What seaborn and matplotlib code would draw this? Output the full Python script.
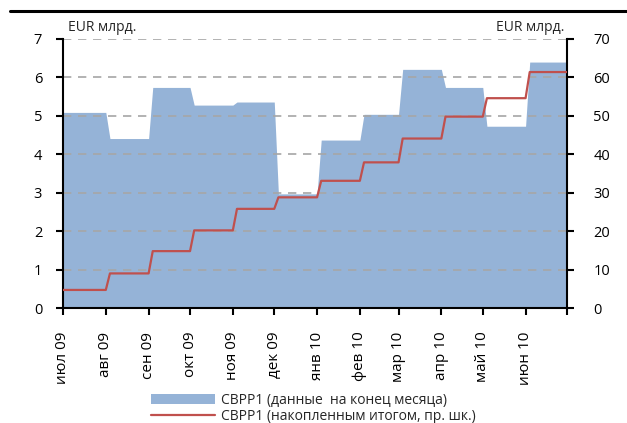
import datetime as dt
import matplotlib as mpl
import matplotlib.pyplot as plt
import matplotlib.dates as mdates
from matplotlib.lines import Line2D
from matplotlib.patches import Patch
import seaborn as sns
import pandas as pd

# данные
months = ['июл 09', 'авг 09', 'сен 09', 'окт 09', 'ноя 09', 'дек 09',
          'янв 10', 'фев 10', 'мар 10', 'апр 10', 'май 10', 'июн 10']
month_starts = pd.date_range('2009-07-01', '2010-07-01', freq='MS')
monthly = [5.09, 4.41, 5.74, 5.28, 5.36, 2.97, 4.37, 5.04, 6.21, 5.74, 4.73, 6.40]
cumulative = [4.7, 9.0, 14.8, 20.2, 25.8, 28.8, 33.1, 37.9, 44.1, 49.8, 54.6, 61.4]

blue = '#95b3d7'
red = '#c0504d'

sns.set_style('white')
mpl.rcParams['font.family'] = ['Open Sans', 'DejaVu Sans']
mpl.rcParams['font.size'] = 10

# ступенчатые ряды: значение держится весь месяц, переход занимает пару дней
xs, ys_m, ys_c = [], [], []
for i in range(len(months)):
    start = month_starts[i] if i == 0 else month_starts[i] + pd.Timedelta(days=3)
    end = month_starts[i + 1]
    xs += [start, end]
    ys_m += [monthly[i], monthly[i]]
    ys_c += [cumulative[i], cumulative[i]]
df = pd.DataFrame({'date': xs, 'monthly': ys_m, 'cum': ys_c})

fig = plt.figure(figsize=(6.27, 4.23), dpi=100)
ax = fig.add_axes([63 / 627, (423 - 308) / 423, (567 - 63) / 627, (308 - 39) / 423])
ax2 = ax.twinx()

ax.fill_between(df['date'], 0, df['monthly'], color=blue, lw=0, zorder=1)
ax.set_ylim(0, 7)
ax.set_yticks(range(0, 8))
for v in range(1, 8):
    ax.axhline(v, color='#a6a6a6', lw=1.2, ls=(0, (5, 4)), zorder=2)

sns.lineplot(data=df, x='date', y='cum', ax=ax2, color=red, lw=1.6, sort=False,
             estimator=None, zorder=3)
ax2.set_ylim(0, 70)
ax2.set_yticks(range(0, 80, 10))
ax2.set_ylabel('')
ax2.set_xlabel('')

ax.set_xlim(month_starts[0], month_starts[-1])
ax.set_xticks(month_starts)
ax.set_xticklabels(months + [''], rotation=90, va='top', ha='center')
ax.set_xlabel('')

for a in (ax, ax2):
    a.grid(False)
    for s in a.spines.values():
        s.set_visible(False)
ax.spines['left'].set_visible(True)
ax.spines['bottom'].set_visible(True)
ax2.spines['right'].set_visible(True)
for s in (ax.spines['left'], ax.spines['bottom'], ax2.spines['right']):
    s.set_color('black')
    s.set_linewidth(1.5)

ax.tick_params(axis='y', left=True, length=5, width=1.5, pad=10, labelsize=10.5, colors='black')
ax.tick_params(axis='x', bottom=True, length=5, width=1.5, pad=12, labelsize=11, colors='black')
ax2.tick_params(axis='y', right=True, length=5, width=1.5, pad=14, labelsize=10.5, colors='black')
ax.set_zorder(ax2.get_zorder() - 1)
ax2.patch.set_visible(False)

ax.text(0.01, 1.015, 'EUR млрд.', transform=ax.transAxes, ha='left', va='bottom', fontsize=10)
ax2.text(0.995, 1.015, 'EUR млрд.', transform=ax2.transAxes, ha='right', va='bottom', fontsize=10)

# верхняя линия
fig.add_artist(Line2D([10 / 627, 1], [1 - 11 / 423, 1 - 11 / 423], color='black', lw=2.2))

handles = [Patch(facecolor=blue, edgecolor='none'),
           Line2D([0], [0], color=red, lw=1.6)]
labels = ['СВРР1 (данные  на конец месяца)', 'СВРР1 (накопленным итогом, пр. шк.)']
fig.legend(handles, labels, loc='upper center', bbox_to_anchor=(0.5, 1 - 386 / 423),
           frameon=False, fontsize=10, handlelength=4.6, handleheight=0.7,
           labelspacing=0.05, handletextpad=0.4, borderpad=0)

fig.savefig('out.png', dpi=100)
